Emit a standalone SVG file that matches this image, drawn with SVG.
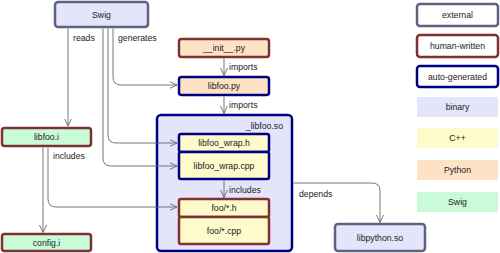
<svg xmlns="http://www.w3.org/2000/svg" width="500" height="253" viewBox="0 0 500 253">
<style>
text{font-family:"Liberation Sans",Arial,sans-serif;font-size:8.7px;fill:#222;text-anchor:middle;dominant-baseline:central}
.lbl{text-anchor:start}
.ext{stroke:#606080;stroke-width:2.5}
.hum{stroke:#803030;stroke-width:2.5}
.auto{stroke:#000080;stroke-width:2.5}
.bin{fill:#e4e4fa}
.cpp{fill:#fdfbcb}
.py{fill:#fde2c6}
.swg{fill:#c9fbd9}
.wht{fill:#fff}
.edge{fill:none;stroke:#666;stroke-width:0.9;marker-end:url(#arr)}
</style>
<defs>
<marker id="arr" viewBox="0 0 8 8" refX="7.5" refY="4" markerWidth="8" markerHeight="8" markerUnits="userSpaceOnUse" orient="auto">
<path d="M0,0.5 L7.5,4 L0,7.5" fill="none" stroke="#666" stroke-width="0.9"/>
</marker>
</defs>

<g id="swig"><rect x="55" y="2" width="93" height="25" rx="3" class="ext bin"/><text x="101.5" y="14.5">Swig</text></g>
<g id="init_py"><rect x="179" y="39" width="90" height="18" rx="2.5" class="hum py"/><text x="224" y="48">__init__.py</text></g>
<g id="libfoo_py"><rect x="179" y="77" width="90" height="18" rx="2.5" class="auto py"/><text x="224" y="86">libfoo.py</text></g>
<g id="libfoo_so"><rect x="157" y="115" width="135" height="136" rx="4" class="auto bin"/><text x="283" y="126" style="text-anchor:end">_libfoo.so</text></g>
<g id="libfoo_wrap_h"><rect x="179" y="134" width="90" height="18" rx="2" class="auto cpp"/><text x="224" y="143">libfoo_wrap.h</text></g>
<g id="libfoo_wrap_cpp"><rect x="179" y="152" width="90" height="27" rx="2" class="auto cpp"/><text x="224" y="166">libfoo_wrap.cpp</text></g>
<g id="foo_h"><rect x="179" y="199" width="90" height="18" rx="2" class="hum cpp"/><text x="224" y="208">foo/*.h</text></g>
<g id="foo_cpp"><rect x="179" y="217" width="90" height="27" rx="2" class="hum cpp"/><text x="224" y="231">foo/*.cpp</text></g>
<g id="libfoo_i"><rect x="2" y="128" width="89" height="18" rx="2.5" class="hum swg"/><text x="46.5" y="137">libfoo.i</text></g>
<g id="config_i"><rect x="2" y="234" width="89" height="17" rx="2.5" class="hum swg"/><text x="46.5" y="242.5">config.i</text></g>
<g id="libpython_so"><rect x="335" y="224" width="90" height="27" rx="3" class="ext bin"/><text x="380" y="237.5">libpython.so</text></g>

<g id="legend_external"><rect x="417" y="4" width="81" height="22" rx="3" class="ext wht"/><text x="457.5" y="15">external</text></g>
<g id="legend_human"><rect x="417" y="35" width="81" height="22" rx="3" class="hum wht"/><text x="457.5" y="46">human-written</text></g>
<g id="legend_auto"><rect x="417" y="66" width="81" height="21" rx="3" class="auto wht"/><text x="457.5" y="76.5">auto-generated</text></g>
<g id="legend_binary"><rect x="417" y="97" width="81" height="20" class="bin"/><text x="457.5" y="107">binary</text></g>
<g id="legend_cpp"><rect x="417" y="128" width="81" height="20" class="cpp"/><text x="457.5" y="138">C++</text></g>
<g id="legend_python"><rect x="417" y="160" width="81" height="20" class="py"/><text x="457.5" y="170">Python</text></g>
<g id="legend_swig"><rect x="417" y="192" width="81" height="20" class="swg"/><text x="457.5" y="202">Swig</text></g>

<g id="connectors">
<path class="edge" d="M68,28.5 V126"/>
<path class="edge" d="M113,28.5 V77 Q113,85 121,85 H177"/>
<path class="edge" d="M108,28.5 V135 Q108,143 116,143 H177"/>
<path class="edge" d="M103,28.5 V158 Q103,166 111,166 H177"/>
<path class="edge" d="M224,58.5 V75.5"/>
<path class="edge" d="M224,96.5 V113.5"/>
<path class="edge" d="M224,180.5 V197.5"/>
<path class="edge" d="M43,147.5 V232.5"/>
<path class="edge" d="M48,147.5 V199 Q48,207 56,207 H177"/>
<path class="edge" d="M293.5,183 H372 Q380,183 380,191 V222.5"/>
<text class="lbl" x="73" y="38">reads</text>
<text class="lbl" x="118" y="38">generates</text>
<text class="lbl" x="229" y="67">imports</text>
<text class="lbl" x="229" y="105">imports</text>
<text class="lbl" x="229" y="190">includes</text>
<text class="lbl" x="53" y="156">includes</text>
<text class="lbl" x="299" y="194">depends</text>
</g>
</svg>
